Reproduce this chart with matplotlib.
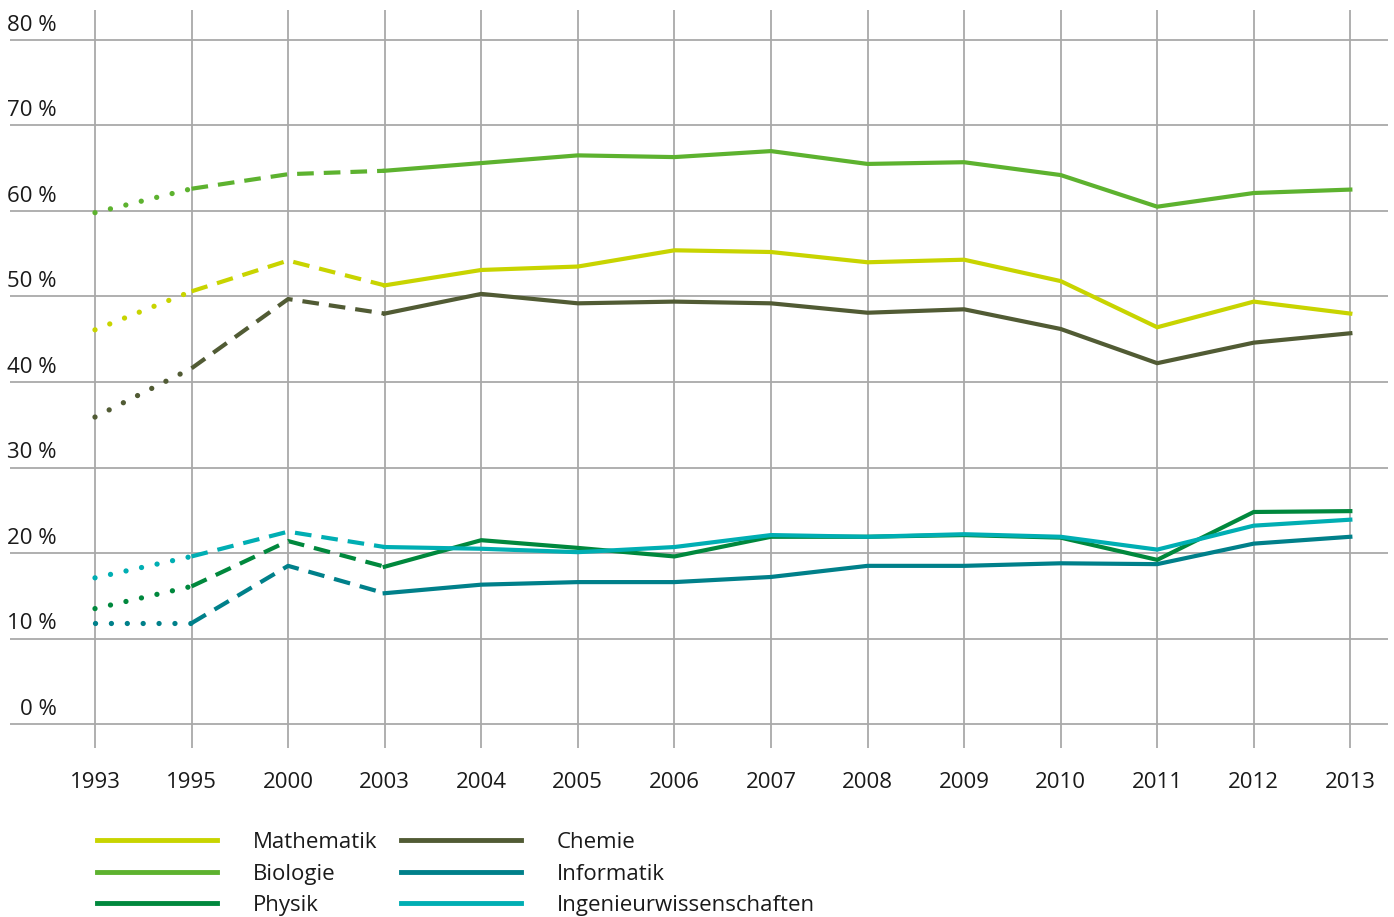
import matplotlib.pyplot as plt
from matplotlib import font_manager
from matplotlib.transforms import offset_copy, blended_transform_factory

years = ["1993", "1995", "2000", "2003", "2004", "2005", "2006",
         "2007", "2008", "2009", "2010", "2011", "2012", "2013"]

mathematik = [46.1, 50.6, 54.2, 51.3, 53.1, 53.5, 55.4, 55.2, 54.0, 54.3, 51.8, 46.4, 49.4, 48.0]
biologie = [59.8, 62.6, 64.3, 64.7, 65.6, 66.5, 66.3, 67.0, 65.5, 65.7, 64.2, 60.5, 62.1, 62.5]
physik = [13.5, 16.1, 21.4, 18.4, 21.5, 20.6, 19.6, 21.9, 21.9, 22.1, 21.8, 19.2, 24.8, 24.9]
chemie = [35.9, 41.6, 49.7, 48.0, 50.3, 49.2, 49.4, 49.2, 48.1, 48.5, 46.2, 42.2, 44.6, 45.7]
informatik = [11.8, 11.8, 18.5, 15.3, 16.3, 16.6, 16.6, 17.2, 18.5, 18.5, 18.8, 18.7, 21.1, 21.9]
ingenieur = [17.1, 19.6, 22.5, 20.7, 20.5, 20.1, 20.7, 22.1, 21.9, 22.2, 21.9, 20.4, 23.2, 23.9]

y_ticks = [0, 10, 20, 30, 40, 50, 60, 70, 80]

series = [
    ("Mathematik", mathematik, "#c8d400"),
    ("Biologie", biologie, "#5db22f"),
    ("Physik", physik, "#00883d"),
    ("Chemie", chemie, "#515b34"),
    ("Informatik", informatik, "#00808a"),
    ("Ingenieurwissenschaften", ingenieur, "#00aeb3"),
]

# pick a narrow face if one is available
names = {f.name for f in font_manager.fontManager.ttflist}
family = ["Liberation Sans Narrow"] if "Liberation Sans Narrow" in names else ["Open Sans"]
plt.rcParams["font.family"] = family + ["DejaVu Sans"]
FS = 16

fig = plt.figure(figsize=(13.94, 9.17), dpi=100)
ax = fig.add_axes([10 / 1394, 1 - 748 / 917, 1378 / 1394, 738 / 917])

x = list(range(len(years)))
lw = 3.0
for name, vals, color in series:
    # 1993-1995 estimated (dotted), 1995-2003 interpolated (dashed), then measured
    ax.plot(x[0:2], vals[0:2], color=color, lw=3.8, linestyle=(0, (0.01, 3.0)),
            dash_capstyle="round")
    ax.plot(x[1:4], vals[1:4], color=color, lw=lw, linestyle=(0, (4.0, 2.4)),
            dash_capstyle="butt")
    ax.plot(x[3:], vals[3:], color=color, lw=lw, solid_joinstyle="miter",
            label=name)

ax.set_xlim(-0.88, 13.39)
ax.set_ylim(-2.8, 83.5)
for s in ax.spines.values():
    s.set_visible(False)

ax.set_xticks(x)
ax.set_xticklabels(years, fontsize=FS, color="#1a1a1a")
ax.set_yticks(y_ticks)
ax.set_yticklabels([])
ax.tick_params(length=0)
ax.tick_params(axis="x", pad=17)
ax.grid(True, color="#a9a9a9", lw=1.3)
ax.set_axisbelow(True)

# y labels sit above their grid lines
trans = blended_transform_factory(fig.transFigure, ax.transData)
trans = offset_copy(trans, fig=fig, y=3, units="points")
for t in y_ticks:
    ax.text(57 / 1394, t, f"{t} %", transform=trans, ha="right", va="bottom",
            fontsize=FS, color="#1a1a1a")

handles, labels = ax.get_legend_handles_labels()
leg = fig.legend(handles, labels, ncol=2, loc="upper left",
                 bbox_to_anchor=(88 / 1394, 1 - 823 / 917), frameon=False,
                 fontsize=FS, handlelength=5.4, handletextpad=1.6,
                 columnspacing=1.1, labelspacing=0.48, borderaxespad=0)
for line in leg.get_lines():
    line.set_linewidth(3.5)
for txt in leg.get_texts():
    txt.set_color("#1a1a1a")

fig.savefig("out.png", dpi=100)
